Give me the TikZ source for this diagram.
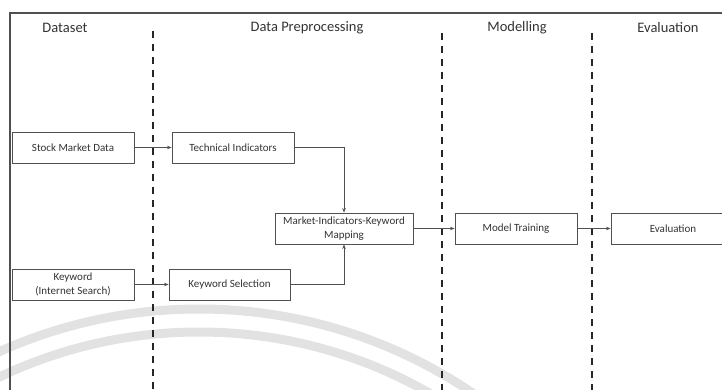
\documentclass[tikz,border=0pt]{standalone}
\usepackage{fontspec}
\setmainfont{Carlito}
\usetikzlibrary{arrows.meta}
\definecolor{txt}{HTML}{333333}
\definecolor{edge}{HTML}{505050}
\definecolor{wmark}{HTML}{E2E2E2}
\tikzset{
  box/.style={draw=edge, line width=0.9pt, minimum height=31pt, inner sep=2pt,
    text=txt, font=\fontsize{11}{13.5}\selectfont, align=center},
  header/.style={text=txt, font=\fontsize{14.5}{16}\selectfont, inner sep=0pt},
  divider/.style={black!85, line width=2pt, dash pattern=on 7pt off 6pt},
  conn/.style={draw=edge, line width=0.9pt, -{Stealth[length=4.5pt,width=3.5pt]}},
  wm/.style={draw=wmark, line width=9pt},
}
\begin{document}
\begin{tikzpicture}[x=1pt,y=-1pt]
\useasboundingbox (0,0) rectangle (722,390);
\clip (0,0) rectangle (722,390);
% watermark arcs
\draw[wm] (199,796) circle[radius=487pt];
\draw[wm] (199,796) circle[radius=464pt];
% frame
\draw[edge, line width=1.6pt] (10,400) -- (10,13) -- (730,13);
% headers
\node[header] (hds) at (65,28) {Dataset};
\node[header] (hdp) at (307,28) {Data Preprocessing};
\node[header] (hmo) at (517,28) {Modelling};
\node[header] (hev) at (668,28) {Evaluation};
% dividers
\coordinate (d1t) at (153,31); \coordinate (d1b) at (153,392);
\coordinate (d2t) at (442,33); \coordinate (d2b) at (442,392);
\coordinate (d3t) at (592,33); \coordinate (d3b) at (592,392);
\draw[divider] (d1t) -- (d1b);
\draw[divider] (d2t) -- (d2b);
\draw[divider] (d3t) -- (d3b);
% boxes
\node[box, minimum width=122pt] (smd) at (73,147.5) {Stock Market Data};
\node[box, minimum width=122pt] (ti) at (233,147.5) {Technical Indicators};
\node[box, minimum width=122pt] (kw) at (73,284.5) {Keyword\\(Internet Search)};
\node[box, minimum width=121pt] (ks) at (229.5,284.5) {Keyword Selection};
\node[box, minimum width=138pt] (map) at (344,228.5) {Market-Indicators-Keyword\\Mapping};
\node[box, minimum width=122pt] (mt) at (516,228.5) {Model Training};
\node[box, minimum width=124pt] (ev) at (673,228.5) {Evaluation};
% connectors
\draw[conn] (smd.east) -- (ti.west);
\draw[conn] (kw.east) -- (ks.west);
\draw[conn] (ti.east) -| (map.north);
\draw[conn] (ks.east) -| (map.south);
\draw[conn] (map.east) -- (mt.west);
\draw[conn] (mt.east) -- (ev.west);
\end{tikzpicture}
\end{document}
